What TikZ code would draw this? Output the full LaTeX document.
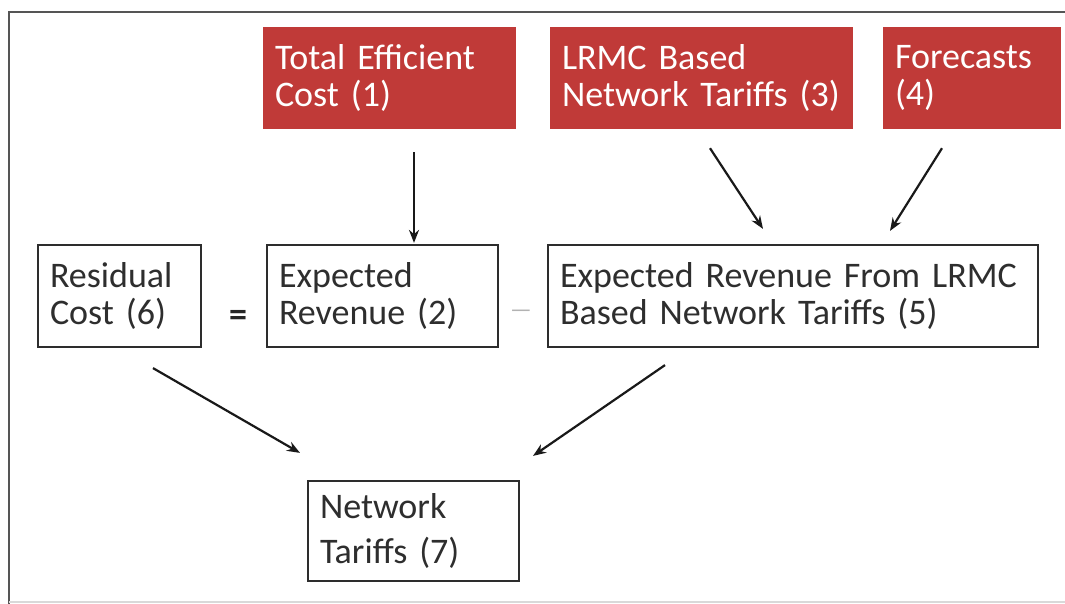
\documentclass[tikz,border=0pt]{standalone}
\usepackage{fontspec}
\setmainfont{Carlito}[WordSpace=0.45]
\usetikzlibrary{calc,arrows.meta}
\definecolor{redbox}{RGB}{192,58,56}
\definecolor{framegray}{RGB}{85,85,85}
\definecolor{boxline}{RGB}{45,45,45}
\tikzset{
  txt/.style={font=\fontsize{36}{37}\selectfont, align=left, inner ysep=0pt, inner xsep=12pt, anchor=center},
  redbx/.style={txt, rectangle, fill=redbox, text=white, draw=none, minimum height=102pt},
  whitebx/.style={txt, rectangle, draw=boxline, line width=2.2pt, text=black!82, minimum height=102pt},
  arr/.style={draw=black!90, line width=2.2pt, -{Stealth[length=13pt,width=10pt]}},
  framel/.style={draw=framegray, line width=2.4pt}
}
\begin{document}
\begin{tikzpicture}[x=1pt,y=-1pt]
\useasboundingbox (0,0) rectangle (1065,604);
% frame
\draw[framel] (1065,12) -- (9,12) -- (9,604);
\draw[draw=black!15, line width=1.5pt] (9,602) -- (1065,602);
% red input boxes
\node[redbx, text width=229pt] (c1) at (389.5,78) {Total Efficient\\Cost (1)};
\node[redbx, text width=279pt] (c3) at (701.5,78) {LRMC Based\\Network Tariffs (3)};
\node[redbx, text width=154pt] (c4) at (972,78) {Forecasts\\(4)};
% equation row
\node[whitebx, text width=139pt] (r6) at (119.5,296) {Residual\\Cost (6)};
\node[font=\fontsize{36}{37}\selectfont\bfseries, text=black!85] (eq) at (238,318) {=};
\node[whitebx, text width=207pt] (e2) at (382.5,296) {Expected\\Revenue (2)};
\node[font=\fontsize{24}{24}\selectfont, text=black!30] (minus) at (521,314) {---};
\node[whitebx, text width=466pt] (e5) at (793,296) {Expected Revenue From LRMC\\Based Network Tariffs (5)};
% output
\node[whitebx, text width=187pt, minimum height=100pt, font=\fontsize{36}{45}\selectfont] (n7) at (413.5,531) {Network\\Tariffs (7)};
% arrows
\draw[arr] ($(c1.south)+(24.5,23)$) -- ($(e2.north)+(31.5,-1)$);
\draw[arr] ($(c3.south)+(8.5,19)$) -- ($(e5.north)+(-30,-15)$);
\draw[arr] ($(c4.south)+(-30,19)$) -- ($(e5.north)+(97,-13)$);
\draw[arr] ($(r6.south)+(33.5,20)$) -- ($(n7.north)+(-113.5,-27)$);
\draw[arr] ($(e5.south)+(-128,17)$) -- ($(n7.north)+(119.5,-24)$);
\end{tikzpicture}
\end{document}
